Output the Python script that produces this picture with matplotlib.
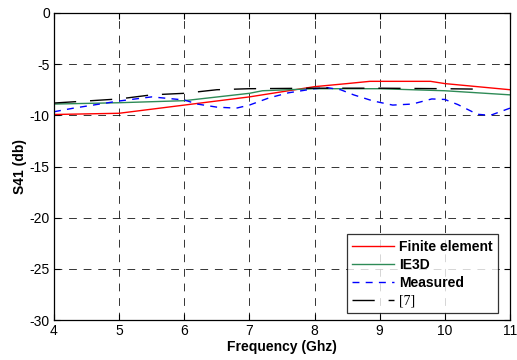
import numpy as np
import matplotlib.pyplot as plt

plt.rcParams['font.family'] = ['Liberation Sans', 'DejaVu Sans']
plt.rcParams['axes.unicode_minus'] = False

# values
freq_fe = [4.0, 5.0, 6.0, 7.0, 8.0, 8.5, 8.85, 9.78, 10.0, 10.5, 11.0]
s41_fe = [-9.92, -9.8, -9.0, -8.2, -7.2, -6.9, -6.68, -6.68, -6.9, -7.2, -7.5]

freq_ie3d = [4.0, 5.0, 6.0, 7.0, 7.2, 8.0, 9.0, 10.0, 11.0]
s41_ie3d = [-8.9, -8.77, -8.57, -7.85, -7.6, -7.4, -7.4, -7.6, -8.0]

freq_meas = [4.0, 4.3, 5.0, 5.5, 6.0, 6.2, 6.5, 6.8, 7.0, 7.3, 7.6, 8.0, 8.2,
             8.4, 8.6, 8.9, 9.2, 9.5, 9.8, 10.0, 10.2, 10.5, 10.7, 11.0]
s41_meas = [-9.65, -9.3, -8.6, -8.2, -8.5, -8.9, -9.2, -9.3, -9.0, -8.3, -7.8,
            -7.4, -7.3, -7.5, -8.0, -8.6, -9.0, -8.9, -8.4, -8.45, -8.95, -9.9,
            -10.0, -9.3]

freq_ref7 = [4.0, 5.0, 5.5, 6.0, 6.5, 7.0, 8.0, 9.0, 10.0, 10.6]
s41_ref7 = [-8.8, -8.4, -8.0, -7.85, -7.5, -7.4, -7.35, -7.35, -7.4, -7.45]

fig = plt.figure(figsize=(5.17, 3.6), dpi=100)
ax = fig.add_axes([0.1044, 0.111, 0.882, 0.853])

ax.plot(freq_fe, s41_fe, color='red', lw=1.0, label='Finite element')
ax.plot(freq_ie3d, s41_ie3d, color='#2e8b57', lw=1.0, label='IE3D')
ax.plot(freq_meas, s41_meas, color='blue', lw=1.0, dashes=(5, 4.5), label='Measured')
ax.plot(freq_ref7, s41_ref7, color='black', lw=1.0, dashes=(16, 10), label='[7]')

ax.set_xlim(4, 11)
ax.set_ylim(-30, 0)
ax.set_xticks(np.arange(4, 12, 1))
ax.set_yticks(np.arange(-30, 1, 5))
ax.tick_params(direction='in', labelsize=10, length=4, width=0.8, pad=3)
ax.tick_params(top=True, right=True)
ax.grid(True, color='black', linestyle=(0, (8, 7)), linewidth=0.7, alpha=0.8)
for s in ax.spines.values():
    s.set_linewidth(0.9)

ax.set_xlabel('Frequency (Ghz)', fontsize=10, fontweight='bold', labelpad=1)
ax.set_ylabel('S41 (db)', fontsize=10, fontweight='bold', labelpad=2)

leg = ax.legend(loc='lower right', bbox_to_anchor=(0.974, 0.023), fontsize=10,
                frameon=True, fancybox=False, edgecolor='black', borderaxespad=0,
                handlelength=3.0, handletextpad=0.35, labelspacing=0.3, borderpad=0.4)
leg.get_frame().set_linewidth(0.9)
for t in leg.get_texts():
    t.set_fontweight('bold')
leg.get_texts()[-1].set_fontweight('normal')
leg.get_texts()[-1].set_family(['Liberation Serif', 'DejaVu Serif'])

fig.savefig('out.png', dpi=100)
